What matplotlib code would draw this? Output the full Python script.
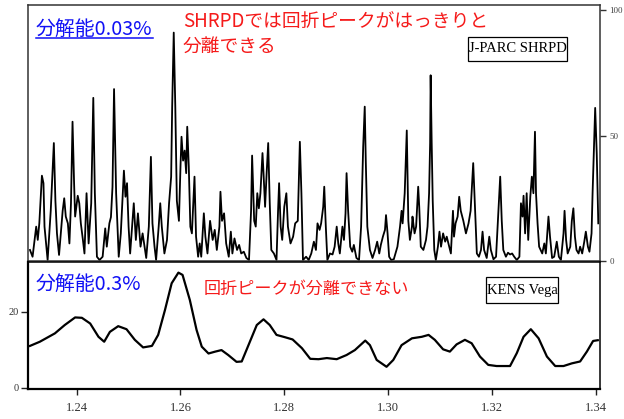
import matplotlib
matplotlib.use("Agg")
import matplotlib.pyplot as plt
from matplotlib.patches import Rectangle
from matplotlib.lines import Line2D

# SHRPD high-resolution pattern: d-spacing and intensity
shrpd_d = [
    1.2310, 1.2315, 1.2322, 1.2325, 1.2328, 1.2333, 1.2336, 1.2338, 1.2344, 1.2350,
    1.2356, 1.2359, 1.2362, 1.2366, 1.2373, 1.2376, 1.2379, 1.2383, 1.2386, 1.2389,
    1.2392, 1.2395, 1.2397, 1.2402, 1.2405, 1.2408, 1.2412, 1.2415, 1.2419, 1.2423,
    1.2428, 1.2432, 1.2435, 1.2439, 1.2444, 1.2450, 1.2455, 1.2458, 1.2463, 1.2466,
    1.2469, 1.2472, 1.2476, 1.2481, 1.2485, 1.2491, 1.2494, 1.2497, 1.2500, 1.2503,
    1.2510, 1.2514, 1.2518, 1.2523, 1.2527, 1.2534, 1.2539, 1.2543, 1.2546, 1.2550,
    1.2553, 1.2558, 1.2561, 1.2564, 1.2569, 1.2574, 1.2578, 1.2582, 1.2584, 1.2587,
    1.2590, 1.2593, 1.2597, 1.2600, 1.2602, 1.2605, 1.2608, 1.2611, 1.2613, 1.2616,
    1.2619, 1.2622, 1.2627, 1.2630, 1.2634, 1.2637, 1.2640, 1.2645, 1.2648, 1.2652,
    1.2657, 1.2662, 1.2666, 1.2670, 1.2675, 1.2677, 1.2680, 1.2684, 1.2688, 1.2693,
    1.2697, 1.2700, 1.2704, 1.2709, 1.2713, 1.2717, 1.2722, 1.2727, 1.2732, 1.2736,
    1.2738, 1.2742, 1.2745, 1.2748, 1.2751, 1.2754, 1.2758, 1.2760, 1.2763, 1.2766,
    1.2769, 1.2772, 1.2775, 1.2780, 1.2785, 1.2788, 1.2790, 1.2793, 1.2796, 1.2800,
    1.2804, 1.2807, 1.2812, 1.2817, 1.2821, 1.2826, 1.2830, 1.2833, 1.2836, 1.2842,
    1.2847, 1.2852, 1.2857, 1.2861, 1.2864, 1.2868, 1.2871, 1.2875, 1.2877, 1.2880,
    1.2883, 1.2888, 1.2893, 1.2897, 1.2901, 1.2904, 1.2907, 1.2912, 1.2915, 1.2918,
    1.2920, 1.2923, 1.2927, 1.2931, 1.2934, 1.2939, 1.2944, 1.2948, 1.2952, 1.2955,
    1.2957, 1.2960, 1.2965, 1.2970, 1.2975, 1.2979, 1.2983, 1.2986, 1.2990, 1.2994,
    1.2996, 1.2999, 1.3002, 1.3006, 1.3011, 1.3018, 1.3023, 1.3026, 1.3028, 1.3032,
    1.3036, 1.3039, 1.3042, 1.3046, 1.3047, 1.3051, 1.3054, 1.3058, 1.3060, 1.3063,
    1.3068, 1.3073, 1.3076, 1.3079, 1.3081, 1.3082, 1.3084, 1.3086, 1.3089, 1.3092,
    1.3096, 1.3099, 1.3102, 1.3106, 1.3110, 1.3113, 1.3117, 1.3121, 1.3125, 1.3127,
    1.3130, 1.3134, 1.3137, 1.3140, 1.3145, 1.3150, 1.3155, 1.3159, 1.3164, 1.3168,
    1.3171, 1.3175, 1.3179, 1.3182, 1.3185, 1.3190, 1.3195, 1.3198, 1.3203, 1.3208,
    1.3212, 1.3216, 1.3219, 1.3222, 1.3227, 1.3231, 1.3235, 1.3239, 1.3243, 1.3248,
    1.3253, 1.3256, 1.3259, 1.3261, 1.3264, 1.3267, 1.3270, 1.3274, 1.3277, 1.3280,
    1.3283, 1.3285, 1.3288, 1.3291, 1.3297, 1.3301, 1.3304, 1.3309, 1.3312, 1.3316,
    1.3320, 1.3325, 1.3329, 1.3333, 1.3338, 1.3340, 1.3343, 1.3346, 1.3351, 1.3354,
    1.3357, 1.3360, 1.3363, 1.3367, 1.3370, 1.3374, 1.3378, 1.3381, 1.3385, 1.3388,
    1.3392, 1.3394, 1.3397, 1.3399, 1.3402, 1.3405,
]
shrpd_i = [
    4.4, 1.7, 13.7, 8.4, 15, 34, 31, 13.7, 0.4, 20,
    47, 24, 11, 2.4, 20, 25, 17.7, 15, 7, 23,
    55.5, 31, 17.7, 26, 23, 15, 8.4, 3, 27, 7,
    23, 65, 27, 1.7, 0.4, 1.7, 13, 5.7, 15, 17.5,
    29.5, 68.5, 27, 1.7, 11, 36, 25.6, 31, 13.7, 3,
    23, 8.4, 19, 5.7, 11, 1.2, 13.7, 41.5, 15, 5.7,
    0.4, 13.7, 23, 13.7, 3, 8.4, 23, 33.6, 61.5, 91,
    61.5, 24, 16, 37.6, 49.5, 40, 44, 35, 53.5, 37.6,
    13.7, 11, 33.6, 9.7, 1.7, 7, 1.7, 19, 9.7, 3,
    16, 8.4, 12.4, 4.4, 13.7, 27.6, 16, 19, 7, 1.7,
    11.7, 3, 9, 4.4, 6.4, 3, 3.7, 1.2, 0.4, 20,
    42, 16, 13.7, 27, 21, 27, 43, 35, 21.6, 35,
    47, 23, 4.4, 3, 0.4, 20, 31, 13.7, 8.4, 21.6,
    27, 13.7, 7, 9.7, 15, 16, 47.5, 27, 0.4, 1.7,
    0.4, 3, 7.7, 4.4, 15, 12.4, 15, 21.6, 29.6, 13.7,
    0.4, 3, 2.6, 5.7, 13.7, 7, 3, 13.7, 8.4, 19,
    35, 20, 5.7, 3.7, 6.4, 1.2, 0.4, 13.7, 45.5, 61.5,
    40, 13.7, 4.4, 1.2, 4.4, 7.7, 3, 6.4, 9.7, 12.4,
    18.3, 11, 1.7, 0.4, 0.7, 5.7, 13.7, 20, 15, 27,
    52, 16, 8.4, 13.7, 17.7, 11, 13.7, 29.6, 21.6, 5.7,
    4.4, 8.4, 13.7, 27, 47, 74, 47, 24, 4.4, 0.4,
    5.7, 11.7, 5.7, 11, 7.7, 9.7, 6.4, 3, 20, 9.7,
    15, 17.7, 25.6, 20, 16, 11, 15, 20, 39, 19,
    3, 1.7, 4.4, 11.7, 4.4, 1.2, 9.7, 4.4, 0.7, 1.7,
    17.7, 33.6, 16, 4.4, 1.7, 3.3, 2.6, 3, 1.7, 0.4,
    1.7, 23, 17.7, 26, 11, 27, 8.4, 25.6, 33.6, 27,
    51.5, 27, 15, 5.7, 3, 7, 3, 17.7, 9.7, 1.2,
    1.7, 7.7, 1.7, 0.4, 11, 20, 8.4, 3, 5.7, 16,
    21, 9.7, 4.4, 3, 5.7, 3, 7.7, 11.7, 5.7, 3.7,
    11, 27, 47, 61, 43, 15,
]

# KENS Vega low-resolution pattern: d-spacing and intensity
vega_d = [
    1.2310, 1.2329, 1.2358, 1.2377, 1.2397, 1.2410, 1.2426, 1.2442, 1.2453, 1.2464,
    1.2480, 1.2496, 1.2512, 1.2528, 1.2545, 1.2557, 1.2570, 1.2583, 1.2596, 1.2604,
    1.2618, 1.2631, 1.2641, 1.2654, 1.2667, 1.2679, 1.2692, 1.2708, 1.2718, 1.2731,
    1.2747, 1.2760, 1.2772, 1.2785, 1.2801, 1.2816, 1.2834, 1.2850, 1.2866, 1.2882,
    1.2901, 1.2920, 1.2936, 1.2956, 1.2965, 1.2978, 1.2997, 1.3010, 1.3026, 1.3046,
    1.3065, 1.3078, 1.3090, 1.3106, 1.3119, 1.3132, 1.3148, 1.3161, 1.3177, 1.3193,
    1.3209, 1.3235, 1.3248, 1.3261, 1.3275, 1.3290, 1.3306, 1.3322, 1.3338, 1.3354,
    1.3370, 1.3383, 1.3395, 1.3404,
]
vega_i = [
    11.0, 12.1, 14.3, 16.5, 18.5, 18.4, 16.9, 13.4, 12.1, 14.7,
    16.2, 15.4, 12.6, 10.6, 11.0, 13.9, 20.4, 27.5, 30.3, 29.7,
    23.1, 15.2, 10.8, 9.0, 9.5, 9.9, 8.6, 6.8, 6.9, 11.2,
    16.5, 18.0, 16.5, 13.9, 13.3, 12.7, 10.4, 7.6, 7.5, 7.8,
    7.5, 8.6, 9.9, 12.4, 11.2, 7.3, 5.5, 7.3, 11.2, 13.0,
    13.4, 13.9, 12.6, 10.1, 9.5, 11.4, 12.6, 11.7, 8.2, 6.0,
    5.7, 5.7, 9.1, 13.4, 15.4, 13.0, 8.2, 5.7, 5.7, 6.4,
    6.9, 9.5, 12.3, 12.5,
]

x_ticks = [1.24, 1.26, 1.28, 1.30, 1.32, 1.34]
x_ticklabels = ["1.24", "1.26", "1.28", "1.30", "1.32", "1.34"]
shrpd_ticks = [0, 50, 100]
vega_ticks = [0, 20]

W, H, DPI = 624, 419, 100
SERIF = "Liberation Serif"
CJK = ["Noto Sans CJK JP", "DejaVu Sans"]
BLUE = "#1010f5"
RED = "#f51a1a"

plt.rcParams["font.family"] = [SERIF]

fig = plt.figure(figsize=(W / DPI, H / DPI), dpi=DPI)
fig.patch.set_facecolor("white")


def fx(px):
    return px / W


def fy(py):
    return 1 - py / H


XLIM = (1.23062, 1.34083)

# upper panel: SHRPD
ax_t = fig.add_axes([fx(28), fy(261), (600 - 28) / W, (261 - 5) / H])
ax_t.plot(shrpd_d, shrpd_i, color="black", lw=1.3)
ax_t.set_xlim(*XLIM)
ax_t.set_ylim(0, 102)
ax_t.set_xticks([])
ax_t.yaxis.tick_right()
ax_t.set_yticks(shrpd_ticks)
ax_t.set_yticklabels([str(v) for v in shrpd_ticks])
ax_t.tick_params(axis="y", direction="out", length=4.3, width=1.0, color="#333333",
                 labelsize=6.5, labelcolor="#444444", pad=2.5)
for s in ax_t.spines.values():
    s.set_color("#333333")
    s.set_linewidth(1.1)

# lower panel: KENS Vega
ax_b = fig.add_axes([fx(28), fy(389), (600 - 28) / W, (389 - 262) / H])
ax_b.plot(vega_d, vega_i, color="black", lw=1.6)
ax_b.set_xlim(*XLIM)
ax_b.set_ylim(-0.35, 33.1)
ax_b.set_xticks(x_ticks)
ax_b.set_xticklabels(x_ticklabels)
ax_b.set_yticks(vega_ticks)
ax_b.set_yticklabels([str(v) for v in vega_ticks])
ax_b.tick_params(axis="x", direction="out", length=4.5, width=1.0, color="#222222",
                 labelsize=9, labelcolor="#333333", pad=5)
ax_b.tick_params(axis="y", direction="out", length=5, width=1.0, color="#222222",
                 labelsize=7.5, labelcolor="#333333", pad=1.5)
for name, s in ax_b.spines.items():
    s.set_color("black")
    s.set_linewidth(1.6 if name in ("left", "bottom") else 1.1)

# annotations
t_res1 = fig.text(fx(36), fy(29), "分解能0.03%", color=BLUE, fontsize=14.3,
                  family=CJK, ha="left", va="center")
fig.text(fx(183), fy(21), "SHRPDでは回折ピークがはっきりと", color=RED, fontsize=13.5,
         family=CJK, ha="left", va="center")
fig.text(fx(183), fy(46), "分離できる", color=RED, fontsize=13.5,
         family=CJK, ha="left", va="center")
fig.text(fx(36), fy(284.5), "分解能0.3%", color=BLUE, fontsize=14.3,
         family=CJK, ha="left", va="center")
fig.text(fx(204), fy(288.5), "回折ピークが分離できない", color=RED, fontsize=12.3,
         family=CJK, ha="left", va="center")

# instrument labels in boxes
fig.patches.append(Rectangle((fx(468), fy(61)), (567 - 468) / W, (61 - 37) / H,
                             transform=fig.transFigure, fill=False,
                             edgecolor="black", lw=0.9))
fig.text(fx(517.5), fy(49), "J-PARC SHRPD", color="black", fontsize=10.5,
         family=SERIF, ha="center", va="center")
fig.patches.append(Rectangle((fx(486), fy(303)), (558 - 486) / W, (303 - 277) / H,
                             transform=fig.transFigure, fill=False,
                             edgecolor="black", lw=0.9))
fig.text(fx(522), fy(290), "KENS Vega", color="black", fontsize=10.5,
         family=SERIF, ha="center", va="center")

# underline beneath the high-resolution label
fig.canvas.draw()
bb = t_res1.get_window_extent(renderer=fig.canvas.get_renderer())
fig.lines.append(Line2D([bb.x0 / W, bb.x1 / W], [fy(38.5), fy(38.5)],
                        transform=fig.transFigure, color=BLUE, lw=1.1))

fig.savefig("out.png", dpi=DPI, facecolor="white")
